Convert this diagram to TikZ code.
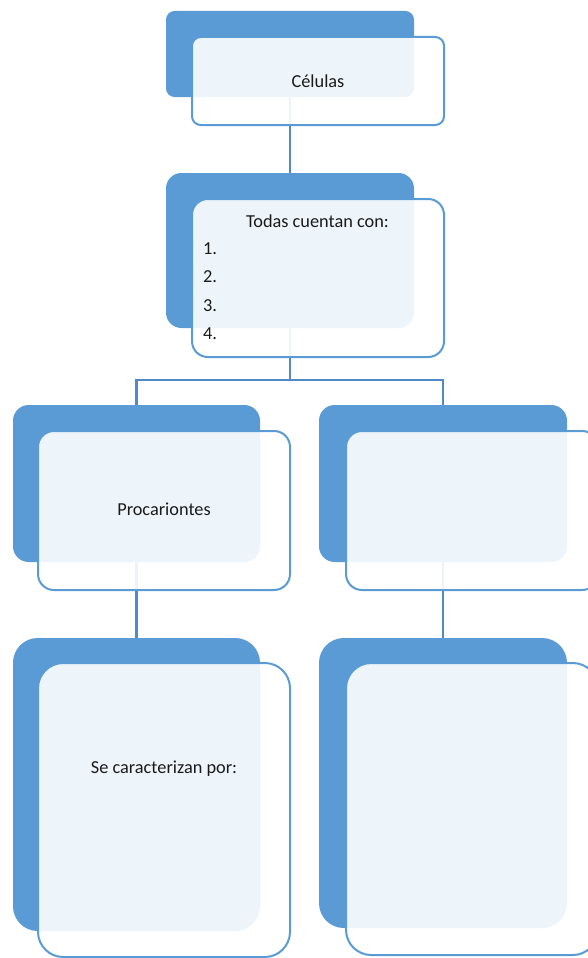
\documentclass[tikz,border=0pt]{standalone}
\usepackage{fontspec}
\setmainfont{Carlito}
\usetikzlibrary{backgrounds}
\definecolor{backblue}{HTML}{5B9BD5}
\definecolor{lineblue}{HTML}{5089C6}
\definecolor{txt}{HTML}{1A1A1A}
\tikzset{
  backbox/.style={rectangle, fill=backblue, inner sep=0pt, outer sep=0pt},
  frontbox/.style={rectangle, draw=backblue, line width=2pt, fill=white, fill opacity=0.9, inner sep=0pt, outer sep=0pt},
  lbl/.style={text=txt, font=\fontsize{18.3}{22}\selectfont, inner sep=0pt},
  conn/.style={draw=lineblue, line width=2.5pt},
}
\begin{document}
\begin{tikzpicture}[x=1pt,y=-1pt]
\useasboundingbox (0,0) rectangle (587,958);
% back boxes
\node[backbox, minimum width=248pt, minimum height=86pt, rounded corners=8.6pt] (b1) at (290,54) {};
\node[backbox, minimum width=248pt, minimum height=155pt, rounded corners=15.5pt] (b2) at (290,250.5) {};
\node[backbox, minimum width=247pt, minimum height=157pt, rounded corners=15.7pt] (b3) at (136.5,483.5) {};
\node[backbox, minimum width=248pt, minimum height=157pt, rounded corners=15.7pt] (b4) at (443,483.5) {};
\node[backbox, minimum width=247pt, minimum height=293pt, rounded corners=24.7pt] (b5) at (136.5,784.5) {};
\node[backbox, minimum width=248pt, minimum height=290pt, rounded corners=24.8pt] (b6) at (443,783) {};
% front boxes
\node[frontbox, minimum width=252pt, minimum height=88pt, rounded corners=8.8pt] (f1) at (318,81) {};
\node[frontbox, minimum width=252pt, minimum height=158pt, rounded corners=15.8pt] (f2) at (318,278) {};
\node[frontbox, minimum width=252pt, minimum height=159pt, rounded corners=15.9pt] (f3) at (164,510.5) {};
\node[frontbox, minimum width=252pt, minimum height=159pt, rounded corners=15.9pt] (f4) at (472,510.5) {};
\node[frontbox, minimum width=252pt, minimum height=294pt, rounded corners=25.2pt] (f5) at (164,810) {};
\node[frontbox, minimum width=252pt, minimum height=292pt, rounded corners=25.2pt] (f6) at (472,809) {};
% connectors
\begin{pgfonlayer}{background}
\coordinate (bar) at (290,380);
\draw[conn] (b1.south) -- (b2.north);
\draw[conn] (b2.south) -- (bar);
\draw[conn] (bar) -| (b3.north);
\draw[conn] (bar) -| (b4.north);
\draw[conn] (b3.south) -- (b5.north);
\draw[conn] (b4.south) -- (b6.north);
\end{pgfonlayer}
% texts
\node[lbl] (t1) at (318,81) {Células};
\node[lbl] (t2) at (317.5,221) {Todas cuentan con:};
\node[lbl, anchor=west] (i1) at (203,249) {1.};
\node[lbl, anchor=west] (i2) at (203,277) {2.};
\node[lbl, anchor=west] (i3) at (203,306) {3.};
\node[lbl, anchor=west] (i4) at (203,334) {4.};
\node[lbl] (t3) at (164,509) {Procariontes};
\node[lbl] (t5) at (164,769) {Se caracterizan por:};
\end{tikzpicture}
\end{document}
